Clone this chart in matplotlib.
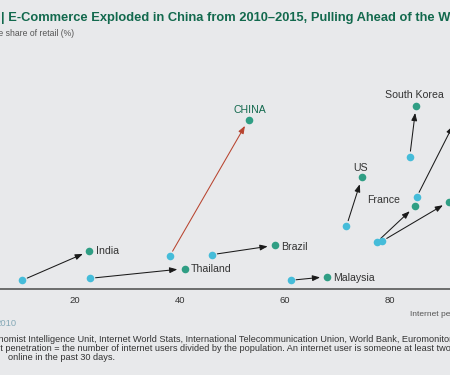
import matplotlib
matplotlib.use('Agg')
import matplotlib.pyplot as plt
from matplotlib import font_manager

names = {f.name for f in font_manager.fontManager.ttflist}
FONT = 'Liberation Sans' if 'Liberation Sans' in names else 'DejaVu Sans'
plt.rcParams['font.family'] = [FONT, 'DejaVu Sans']

# ---- data (internet penetration %, e-commerce share of retail %) ----
countries = ['India', 'Thailand', 'China', 'Brazil', 'Malaysia', 'US',
             'South Korea', 'France', 'Germany', 'United Kingdom']
pen_2010 = [9.97, 22.9, 38.1, 46.1, 61.1, 71.75, 83.8, 77.5, 78.5, 85.1]
share_2010 = [0.79, 0.97, 3.0, 3.12, 0.79, 5.73, 12.03, 4.25, 4.34, 8.34]
pen_2015 = [22.8, 40.9, 53.1, 58.1, 68.1, 74.7, 85.0, 84.8, 91.3, 92.6]
share_2015 = [3.45, 1.85, 15.4, 3.97, 1.12, 10.15, 16.66, 7.52, 7.95, 15.4]
shown_labels = ['India', 'Thailand', 'CHINA', 'Brazil', 'Malaysia', 'US',
                'South Korea', 'France', '', '']
xticks = [20, 40, 60, 80]

BG = '#e8e9eb'
CYAN = '#45bcd9'
GREEN = '#2f9e84'
DARKGREEN = '#12694d'
RED = '#b8442f'
TXT = '#333333'

W, H = 450, 375
fig = plt.figure(figsize=(W / 100, H / 100), dpi=100, facecolor=BG)
ax_bottom_px, ax_top_px = 289, 60
ax = fig.add_axes([0, (H - ax_bottom_px) / H, 1, (ax_bottom_px - ax_top_px) / H])
ax.set_facecolor(BG)
px_per_unit_x = 5.25
x0_px = -30.2
ax.set_xlim((0 - x0_px) / px_per_unit_x, (W - x0_px) / px_per_unit_x)
ax.set_ylim(0, (ax_bottom_px - ax_top_px) / 11.0)

for s in ['top', 'right', 'left']:
    ax.spines[s].set_visible(False)
ax.spines['bottom'].set_color('#4a4a4a')
ax.spines['bottom'].set_linewidth(1.1)
ax.set_yticks([])
ax.set_xticks(xticks)
ax.set_xticklabels([str(t) for t in xticks])
ax.tick_params(axis='x', length=0, pad=5, labelsize=6.8, labelcolor=TXT)

# arrows
for i, c in enumerate(countries):
    col = RED if c == 'China' else '#1a1a1a'
    ax.annotate('', xy=(pen_2015[i], share_2015[i]), xytext=(pen_2010[i], share_2010[i]),
                arrowprops=dict(arrowstyle='-|>,head_length=0.45,head_width=0.17',
                                color=col, lw=0.75, shrinkA=4, shrinkB=5.2),
                zorder=2, annotation_clip=False)

ax.scatter(pen_2010, share_2010, s=30, color=CYAN, zorder=3, clip_on=False, linewidths=0)
ax.scatter(pen_2015, share_2015, s=30, color=GREEN, zorder=3, clip_on=False, linewidths=0)

# labels: offsets in pixels from the 2015 dot (dx, dy, ha)
offsets = {
    'India': (6.3, -2.5, 'left'),
    'Thailand': (6.4, -3.0, 'left'),
    'CHINA': (1.3, 7.0, 'center'),
    'Brazil': (6.7, -4.5, 'left'),
    'Malaysia': (6.3, -4.0, 'left'),
    'US': (-1.0, 6.6, 'center'),
    'South Korea': (-1.6, 8.0, 'center'),
    'France': (-14.6, 3.6, 'right'),
}
for i, lab in enumerate(shown_labels):
    if not lab:
        continue
    dx, dy, ha = offsets[lab]
    is_china = lab == 'CHINA'
    ax.annotate(lab, xy=(pen_2015[i], share_2015[i]), xytext=(dx, dy),
                textcoords='offset pixels', ha=ha, va='baseline',
                fontsize=7.6, color=DARKGREEN if is_china else TXT,
                zorder=4, annotation_clip=False)

# ---- texts in figure pixel coordinates ----
renderer = fig.canvas.get_renderer()


def text_width(s, **kw):
    t = fig.text(0, 0, s + 'x', **kw)
    w1 = t.get_window_extent(renderer).width
    t.remove()
    t = fig.text(0, 0, 'x', **kw)
    w2 = t.get_window_extent(renderer).width
    t.remove()
    return w1 - w2


def ftext(x_px, y_px, s, hidden_prefix='', **kw):
    off = text_width(hidden_prefix, **kw) if hidden_prefix else 0
    fig.text((x_px - off) / W, 1 - y_px / H, hidden_prefix + s, **kw)


title_kw = dict(fontsize=9.3, fontweight='bold', color=DARKGREEN, va='baseline')
ftext(1.5, 20.5, '| E-Commerce Exploded in China from 2010\u20132015, Pulling Ahead of the West',
      hidden_prefix='Exhibit 1 ', **title_kw)
fig.text(74 / W, 1 - 36.5 / H, 'Online share of retail (%)', ha='right', va='baseline',
         fontsize=6.2, color='#555555')
fig.text(410 / W, 1 - 316 / H, 'Internet penetration (%)', ha='left', va='baseline',
         fontsize=6.0, color='#555555')
fig.text(17 / W, 1 - 325.7 / H, '2010', ha='right', va='baseline',
         fontsize=6.8, color='#86aab8')

foot_kw = dict(fontsize=6.6, color=TXT, va='baseline')
ftext(-1, 342.3, 'nomist Intelligence Unit, Internet World Stats, International '
      'Telecommunication Union, World Bank, Euromonitor; BCG analysis.',
      hidden_prefix='Sources: Eco', **foot_kw)
ftext(0, 351, 't penetration = the number of internet users divided by the population. '
      'An internet user is someone at least two years old who has gone',
      hidden_prefix='Note: Interne', **foot_kw)
fig.text(8 / W, 1 - 359.7 / H, 'online in the past 30 days.', ha='left', **foot_kw)

fig.savefig('out.png', dpi=100, facecolor=BG)
